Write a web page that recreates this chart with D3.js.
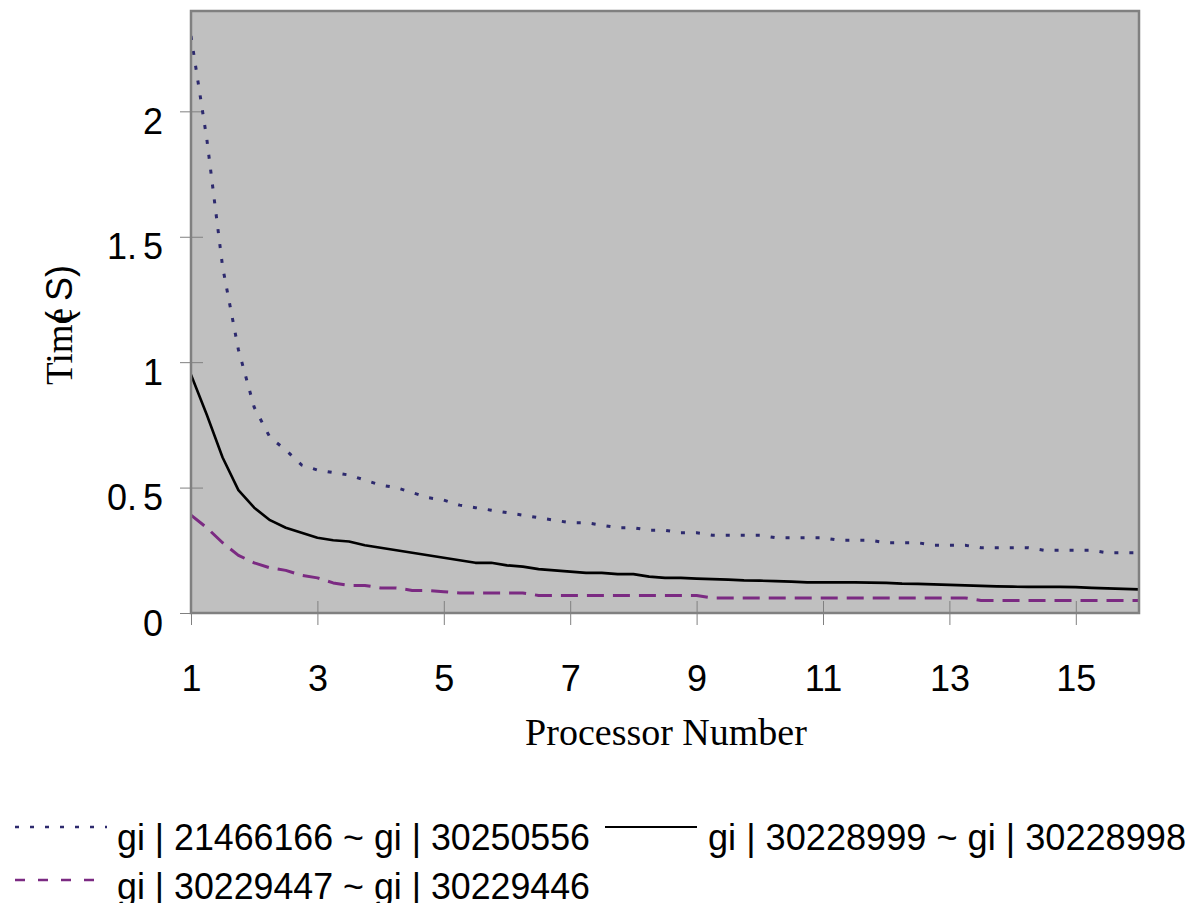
<!DOCTYPE html>
<html>
<head>
<meta charset="utf-8">
<script src="https://cdn.jsdelivr.net/npm/d3@7"></script>
<style>
  html, body { margin: 0; padding: 0; background: #ffffff; }
  svg { display: block; }
</style>
</head>
<body>
<svg id="chart" width="1200" height="919"></svg>
<script>
// ---------- DATA ----------
const processors = [
  1, 1.25, 1.5, 1.75, 2, 2.25, 2.5, 2.75, 3, 3.25, 3.5, 3.75,
  4, 4.25, 4.5, 4.75, 5, 5.25, 5.5, 5.75, 6, 6.25, 6.5, 6.75,
  7, 7.25, 7.5, 7.75, 8, 8.25, 8.5, 8.75, 9, 9.25, 9.5, 9.75,
  10, 10.25, 10.5, 10.75, 11, 11.25, 11.5, 11.75, 12, 12.25, 12.5, 12.75,
  13, 13.25, 13.5, 13.75, 14, 14.25, 14.5, 14.75, 15, 15.25, 15.5, 15.75, 16
];
const seriesNames = [
  "gi | 21466166 ~ gi | 30250556",
  "gi | 30228999 ~ gi | 30228998",
  "gi | 30229447 ~ gi | 30229446"
];
const timeDotted = [
  2.30, 1.89, 1.38, 1.05, 0.82, 0.70, 0.65, 0.59, 0.57, 0.56, 0.55, 0.53,
  0.51, 0.50, 0.48, 0.46, 0.45, 0.43, 0.42, 0.41, 0.40, 0.39, 0.38, 0.37,
  0.36, 0.36, 0.35, 0.34, 0.34, 0.33, 0.33, 0.32, 0.32, 0.31, 0.31, 0.31,
  0.31, 0.30, 0.30, 0.30, 0.30, 0.29, 0.29, 0.29, 0.28, 0.28, 0.28, 0.27,
  0.27, 0.27, 0.26, 0.26, 0.26, 0.26, 0.25, 0.25, 0.25, 0.25, 0.24, 0.24, 0.24
];
const timeSolid = [
  0.95, 0.79, 0.62, 0.49, 0.42, 0.37, 0.34, 0.32, 0.30, 0.29, 0.285, 0.27,
  0.26, 0.25, 0.24, 0.23, 0.22, 0.21, 0.20, 0.20, 0.19, 0.185, 0.175, 0.17,
  0.165, 0.16, 0.16, 0.155, 0.155, 0.145, 0.14, 0.14, 0.137, 0.135, 0.133, 0.13,
  0.129, 0.127, 0.125, 0.122, 0.122, 0.122, 0.122, 0.121, 0.12, 0.117, 0.116, 0.114,
  0.112, 0.11, 0.108, 0.106, 0.105, 0.104, 0.104, 0.104, 0.103, 0.10, 0.098, 0.096, 0.094
];
const timeDashed = [
  0.39, 0.34, 0.28, 0.23, 0.20, 0.18, 0.17, 0.15, 0.14, 0.12, 0.11, 0.11,
  0.10, 0.10, 0.09, 0.09, 0.085, 0.08, 0.08, 0.08, 0.08, 0.08, 0.07, 0.07,
  0.07, 0.07, 0.07, 0.07, 0.07, 0.07, 0.07, 0.07, 0.07, 0.06, 0.06, 0.06,
  0.06, 0.06, 0.06, 0.06, 0.06, 0.06, 0.06, 0.06, 0.06, 0.06, 0.06, 0.06,
  0.06, 0.06, 0.05, 0.05, 0.05, 0.05, 0.05, 0.05, 0.05, 0.05, 0.05, 0.05, 0.05
];
const xTickValues = [1, 3, 5, 7, 9, 11, 13, 15];
const xTickLabels = ["1", "3", "5", "7", "9", "11", "13", "15"];
const yTickValues = [0, 0.5, 1, 1.5, 2];
const yTickLabels = ["0", "0. 5", "1", "1. 5", "2"];

// ---------- LAYOUT ----------
const plot = { left: 191, right: 1139, top: 11, bottom: 613 };
const svg = d3.select("#chart");
const sans = "'Liberation Sans', Arial, sans-serif";
const serif = "'Liberation Serif', 'Times New Roman', serif";

const x = d3.scaleLinear().domain([1, 16]).range([plot.left, plot.right]);
const y = d3.scaleLinear().domain([0, 2.4]).range([plot.bottom, plot.top]);

// plot background
svg.append("rect")
  .attr("x", plot.left).attr("y", plot.top)
  .attr("width", plot.right - plot.left).attr("height", plot.bottom - plot.top)
  .attr("fill", "#c0c0c0");

// clip
svg.append("clipPath").attr("id", "plotclip").append("rect")
  .attr("x", plot.left).attr("y", plot.top)
  .attr("width", plot.right - plot.left).attr("height", plot.bottom - plot.top);

// Y axis
const yAxis = d3.axisLeft(y)
  .tickValues(yTickValues)
  .tickFormat((d, i) => yTickLabels[i])
  .tickSize(11)
  .tickPadding(17);
const gy = svg.append("g").attr("transform", `translate(${plot.left},0)`).call(yAxis);
gy.select(".domain").remove();
gy.selectAll(".tick line").attr("x1", 12).attr("x2", -11).attr("stroke", "#808080").attr("stroke-width", 1);
gy.selectAll(".tick text")
  .attr("font-family", sans).attr("font-size", 36).attr("fill", "#000")
  .attr("word-spacing", "-4px")
  .attr("dy", "0.7em").attr("y", -3);

// X axis
const xAxis = d3.axisBottom(x)
  .tickValues(xTickValues)
  .tickFormat((d, i) => xTickLabels[i])
  .tickSize(12)
  .tickPadding(40);
const gx = svg.append("g").attr("transform", `translate(0,${plot.bottom})`).call(xAxis);
gx.select(".domain").remove();
gx.selectAll(".tick line").attr("y1", -12).attr("y2", 12).attr("stroke", "#808080").attr("stroke-width", 1);
gx.selectAll(".tick text")
  .attr("font-family", sans).attr("font-size", 36).attr("fill", "#000");

// lines
const series = [
  { name: seriesNames[0], values: timeDotted, color: "#2d2a6e", width: 3, dash: "4,11", cap: "butt" },
  { name: seriesNames[1], values: timeSolid, color: "#000000", width: 2.6, dash: null, cap: "round" },
  { name: seriesNames[2], values: timeDashed, color: "#7b2a82", width: 3, dash: "17,9", cap: "butt" }
];
const line = d3.line().x(d => x(d[0])).y(d => y(d[1]));
const gl = svg.append("g").attr("clip-path", "url(#plotclip)");
series.forEach(s => {
  gl.append("path")
    .datum(processors.map((p, i) => [p, s.values[i]]))
    .attr("d", line)
    .attr("fill", "none")
    .attr("stroke", s.color)
    .attr("stroke-width", s.width)
    .attr("stroke-dasharray", s.dash)
    .attr("stroke-linecap", s.cap)
    .attr("stroke-linejoin", "round");
});

// plot border
svg.append("rect")
  .attr("x", plot.left).attr("y", plot.top)
  .attr("width", plot.right - plot.left).attr("height", plot.bottom - plot.top)
  .attr("fill", "none").attr("stroke", "#808080").attr("stroke-width", 2.5);

// axis titles
svg.append("text")
  .attr("x", (plot.left + plot.right) / 2 + 1).attr("y", 745)
  .attr("text-anchor", "middle")
  .attr("font-family", serif).attr("font-size", 38).attr("fill", "#000")
  .text("Processor Number");

const yTitle = svg.append("text")
  .attr("transform", "translate(72,325) rotate(-90)")
  .attr("text-anchor", "middle")
  .attr("fill", "#000");
yTitle.append("tspan").attr("font-family", serif).attr("font-size", 37).text("Time");
yTitle.append("tspan").attr("font-family", sans).attr("font-size", 36).attr("dx", -15).text("( S)");

// legend (bottom edge of the reference cuts the second row's descenders)
svg.append("clipPath").attr("id", "legclip").append("rect")
  .attr("x", 0).attr("y", 860).attr("width", 1200).attr("height", 43);
const leg = svg.append("g");
const legendItems = [
  { s: series[0], lx: 15, ly: 827, tx: 117, ty: 850, tw: 473, dash: "4,11", clip: false },
  { s: series[1], lx: 605, ly: 827, tx: 708, ty: 850, tw: 478, dash: null, clip: false },
  { s: series[2], lx: 15, ly: 880, tx: 117, ty: 899, tw: 473, dash: "10,13", clip: true }
];
legendItems.forEach(it => {
  leg.append("line")
    .attr("x1", it.lx).attr("x2", it.lx + 92)
    .attr("y1", it.ly).attr("y2", it.ly)
    .attr("stroke", it.s.color)
    .attr("stroke-width", it.s === series[1] ? 2 : 2.5)
    .attr("stroke-dasharray", it.dash);
  const t = leg.append("text")
    .attr("x", it.tx).attr("y", it.ty)
    .attr("font-family", sans).attr("font-size", 36).attr("fill", "#000")
    .attr("textLength", it.tw).attr("lengthAdjust", "spacingAndGlyphs")
    .text(it.s.name);
  if (it.clip) t.attr("clip-path", "url(#legclip)");
});
</script>
</body>
</html>
